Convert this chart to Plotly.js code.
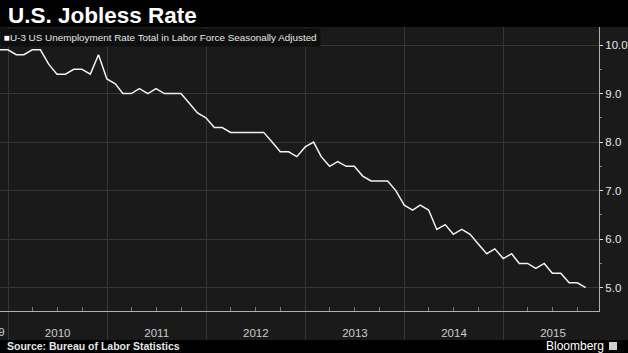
<!DOCTYPE html>
<html>
<head>
<meta charset="utf-8">
<script src="https://cdn.plot.ly/plotly-3.0.1.min.js"></script>
<style>
  html, body { margin: 0; padding: 0; background: #1a1a1a; }
  #chart { width: 628px; height: 353px; }
</style>
</head>
<body>
<div id="chart"></div>
<script>
// Monthly U-3 unemployment rate (%), each month's value plotted at month end
const months = [
  '2009-11','2009-12',
  '2010-01','2010-02','2010-03','2010-04','2010-05','2010-06','2010-07','2010-08','2010-09','2010-10','2010-11','2010-12',
  '2011-01','2011-02','2011-03','2011-04','2011-05','2011-06','2011-07','2011-08','2011-09','2011-10','2011-11','2011-12',
  '2012-01','2012-02','2012-03','2012-04','2012-05','2012-06','2012-07','2012-08','2012-09','2012-10','2012-11','2012-12',
  '2013-01','2013-02','2013-03','2013-04','2013-05','2013-06','2013-07','2013-08','2013-09','2013-10','2013-11','2013-12',
  '2014-01','2014-02','2014-03','2014-04','2014-05','2014-06','2014-07','2014-08','2014-09','2014-10','2014-11','2014-12',
  '2015-01','2015-02','2015-03','2015-04','2015-05','2015-06','2015-07','2015-08','2015-09','2015-10'
];
const unemploymentRate = [
  9.9, 9.9,
  9.8, 9.8, 9.9, 9.9, 9.6, 9.4, 9.4, 9.5, 9.5, 9.4, 9.8, 9.3,
  9.2, 9.0, 9.0, 9.1, 9.0, 9.1, 9.0, 9.0, 9.0, 8.8, 8.6, 8.5,
  8.3, 8.3, 8.2, 8.2, 8.2, 8.2, 8.2, 8.0, 7.8, 7.8, 7.7, 7.9,
  8.0, 7.7, 7.5, 7.6, 7.5, 7.5, 7.3, 7.2, 7.2, 7.2, 7.0, 6.7,
  6.6, 6.7, 6.6, 6.2, 6.3, 6.1, 6.2, 6.1, 5.9, 5.7, 5.8, 5.6,
  5.7, 5.5, 5.5, 5.4, 5.5, 5.3, 5.3, 5.1, 5.1, 5.0
];
const titleText = 'U.S. Jobless Rate';
const seriesName = 'U-3 US Unemployment Rate Total in Labor Force Seasonally Adjusted';
const sourceText = 'Source: Bureau of Labor Statistics';
const brandText = 'Bloomberg';

function monthEnd(m) {
  const [y, mo] = m.split('-').map(Number);
  const d = new Date(Date.UTC(y, mo, 0));
  return d.toISOString().slice(0, 10);
}
const dates = months.map(monthEnd);

const xRange = ['2009-12-02', '2015-12-19'];
const yRange = [4.52, 10.371];
const gridColor = '#363636';
const axisColor = '#b0b0b0';
const sans = '"Liberation Sans", Arial, sans-serif';

const trace = {
  x: dates, y: unemploymentRate, type: 'scatter', mode: 'lines',
  line: { color: '#f2f2f2', width: 1.5 }, name: seriesName,
  hoverinfo: 'skip', showlegend: false
};
// helper trace to carry the long year separator ticks on an overlaying axis
const tickCarrier = {
  x: [dates[0]], y: [unemploymentRate[0]], xaxis: 'x2', type: 'scatter', mode: 'lines',
  line: { width: 0 }, hoverinfo: 'skip', showlegend: false
};

const layout = {
  width: 628, height: 353,
  margin: { l: 0, r: 29, t: 27, b: 42, pad: 0 },
  paper_bgcolor: '#1a1a1a', plot_bgcolor: '#1a1a1a',
  font: { family: sans, color: '#dddddd' },
  title: {
    text: '<b>' + titleText + '</b>',
    font: { family: sans, size: 22.5, color: '#ffffff' },
    xref: 'container', x: 8 / 628, xanchor: 'left',
    yref: 'container', y: 1 - 15 / 353, yanchor: 'middle'
  },
  xaxis: {
    type: 'date', range: xRange,
    dtick: 'M12', tick0: '2010-01-01', ticklabelmode: 'period', tickformat: '%Y',
    ticks: '', showticklabels: true, ticklabelstandoff: 11,
    tickfont: { family: sans, size: 11.5, color: '#cccccc' },
    showgrid: true, gridcolor: gridColor, gridwidth: 1,
    showline: true, linecolor: axisColor, linewidth: 1,
    minor: { dtick: 'M3', tick0: '2010-01-01', ticks: 'inside', ticklen: 4, tickcolor: '#777777', showgrid: false },
    zeroline: false, fixedrange: true
  },
  xaxis2: {
    type: 'date', range: xRange, overlaying: 'x', anchor: 'y', side: 'bottom',
    dtick: 'M12', tick0: '2010-01-01', ticks: 'outside', ticklen: 29, tickwidth: 1,
    tickcolor: gridColor, showticklabels: false, showgrid: false, showline: false, zeroline: false
  },
  yaxis: {
    range: yRange, side: 'right', dtick: 1, tick0: 0, tickformat: '.1f',
    ticks: 'outside', ticklen: 3, tickcolor: '#dddddd', tickwidth: 1,
    tickfont: { family: sans, size: 11.5, color: '#e6e6e6' },
    showgrid: true, gridcolor: gridColor, gridwidth: 1,
    showline: true, linecolor: axisColor, linewidth: 1,
    minor: { dtick: 0.5, tick0: 0, ticks: 'outside', ticklen: 2, tickcolor: '#888888', showgrid: false },
    zeroline: false, fixedrange: true
  },
  shapes: [
    { type: 'rect', xref: 'paper', yref: 'paper', x0: -0.01, x1: 1.1, y0: 1, y1: 1 + 28 / 284,
      fillcolor: '#000000', line: { width: 0 }, layer: 'below' },
    { type: 'rect', xref: 'paper', yref: 'paper', x0: -0.01, x1: 1.1, y0: -(340 - 311) / 284, y1: -(354 - 311) / 284,
      fillcolor: '#000000', line: { width: 0 }, layer: 'above' },
    // Bloomberg logo glyph
    { type: 'rect', xref: 'paper', yref: 'paper', x0: 609 / 599, x1: 617 / 599,
      y0: -(342 - 311) / 284, y1: -(350 - 311) / 284,
      fillcolor: '#cfcfcf', line: { width: 0 }, layer: 'above' }
  ],
  annotations: [
    { text: '<span style="color:#ffffff">\u25A0</span>' + seriesName, xref: 'paper', yref: 'paper',
      x: 0, xanchor: 'left', y: 1 - 1 / 284, yanchor: 'top', showarrow: false,
      font: { family: sans, size: 9.9, color: '#e6e6e6' }, bgcolor: '#0f0f0f', borderpad: 3, align: 'left' },
    { text: '2009', xref: 'x', yref: 'paper', x: '2010-01-01', xanchor: 'right', xshift: -1,
      y: -(332 - 311) / 284, yanchor: 'middle', showarrow: false,
      font: { family: sans, size: 11.5, color: '#cccccc' } },
    { text: '<b>' + sourceText + '</b>', xref: 'paper', yref: 'paper', x: 5 / 599, xanchor: 'left',
      y: -(346 - 311) / 284, yanchor: 'middle', showarrow: false,
      font: { family: sans, size: 10.5, color: '#e6e6e6' } },
    { text: brandText, xref: 'paper', yref: 'paper', x: 606 / 599, xanchor: 'right',
      y: -(346 - 311) / 284, yanchor: 'middle', showarrow: false,
      font: { family: sans, size: 12, color: '#ffffff' } }
  ]
};

Plotly.newPlot('chart', [trace, tickCarrier], layout, { displayModeBar: false, staticPlot: true });
</script>
</body>
</html>
